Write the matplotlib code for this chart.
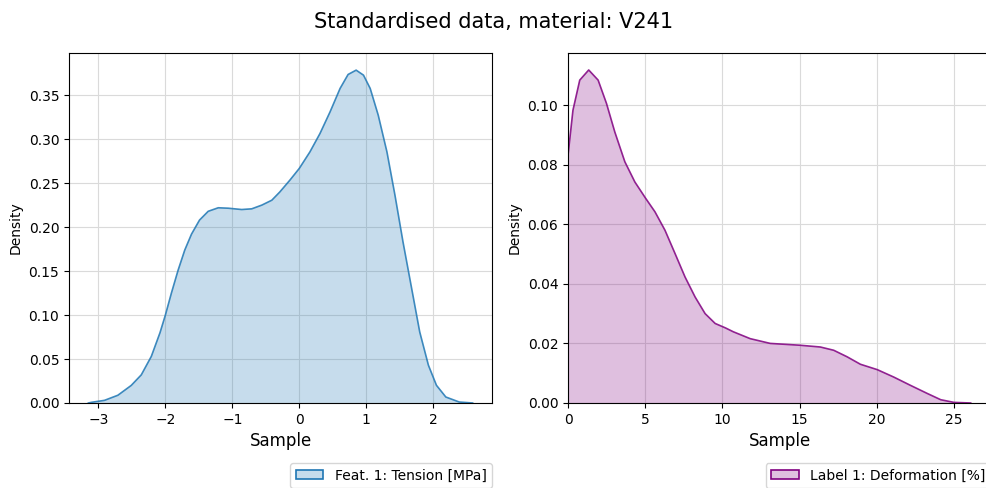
import matplotlib.colors as mcolors
from matplotlib import pyplot as plt

title = "Standardised data, material: V241"

# density curve of the standardised tension feature
tension_x = [-3.15, -3.10, -2.91, -2.71, -2.51, -2.36, -2.21, -2.08, -2.00, -1.91,
             -1.81, -1.71, -1.61, -1.49, -1.36, -1.21, -1.06, -0.86, -0.71, -0.56,
             -0.41, -0.29, -0.14, 0.0, 0.16, 0.31, 0.46, 0.61, 0.73, 0.85,
             0.96, 1.06, 1.18, 1.31, 1.43, 1.55, 1.68, 1.80, 1.93, 2.05,
             2.19, 2.39, 2.59]
tension_y = [0.0, 0.0008, 0.003, 0.0088, 0.020, 0.032, 0.053, 0.080, 0.100, 0.125,
             0.151, 0.174, 0.192, 0.208, 0.218, 0.222, 0.2215, 0.220, 0.2208, 0.225,
             0.2306, 0.240, 0.2534, 0.2667, 0.2856, 0.3065, 0.331, 0.3577, 0.3736, 0.3785,
             0.3728, 0.3577, 0.3273, 0.2856, 0.2363, 0.1832, 0.130, 0.0808, 0.0429, 0.0201,
             0.0068, 0.0011, 0.0]

# density curve of the deformation label
deform_x = [0.0, 0.32, 0.76, 1.34, 1.95, 2.49, 3.03, 3.68, 4.33, 5.03,
            5.63, 6.28, 6.93, 7.58, 8.23, 8.88, 9.53, 10.2, 10.71, 11.8,
            13.1, 15.0, 16.34, 17.21, 18.08, 18.94, 20.03, 21.1, 22.19, 23.27,
            24.14, 25.0, 26.08]
deform_y = [0.0832, 0.0983, 0.1084, 0.1118, 0.1084, 0.1006, 0.091, 0.081, 0.0742, 0.0687,
            0.0642, 0.058, 0.0502, 0.0423, 0.0356, 0.030, 0.0267, 0.0252, 0.0239, 0.0216,
            0.020, 0.0194, 0.0188, 0.0177, 0.0155, 0.013, 0.0112, 0.0087, 0.0059, 0.0032,
            0.0011, 0.0002, 0.0]

panels = [
    (tension_x, tension_y, "tab:blue", "Feat. 1: Tension [MPa]", (-3.44, 2.88), (0, 0.398)),
    (deform_x, deform_y, "purple", "Label 1: Deformation [%]", (0, 27.4), (0, 0.1175)),
]

fig = plt.figure(figsize=(9.87, 4.88), dpi=100)
axes = [fig.add_axes([0.0699, 0.1742, 0.4286, 0.7172]),
        fig.add_axes([0.5755, 0.1742, 0.4286, 0.7172])]

for ax, (x, y, color, label, xlim, ylim) in zip(axes, panels):
    ax.fill_between(x, y, 0, facecolor=color, alpha=0.25, edgecolor="none")
    ax.plot(x, y, color=color, linewidth=1.2, alpha=0.85, solid_joinstyle="round")
    handle = plt.Rectangle((0, 0), 1, 1, facecolor=(*mcolors.to_rgb(color), 0.25),
                           edgecolor=color, linewidth=1.2)
    ax.set_xlim(*xlim)
    ax.set_ylim(*ylim)
    ax.grid(True, color="#dadada", linewidth=0.8)
    ax.set_axisbelow(True)
    ax.set_xlabel("Sample", fontsize=12)
    ax.set_ylabel("Density", fontsize=10)
    ax.legend([handle], [label], loc="upper right", bbox_to_anchor=(1.0, -0.171),
              borderaxespad=0, fontsize=10)

axes[1].set_xticks([0, 5, 10, 15, 20, 25])
fig.suptitle(title, fontsize=15, y=0.975)
plt.savefig("out.png", dpi=100)
